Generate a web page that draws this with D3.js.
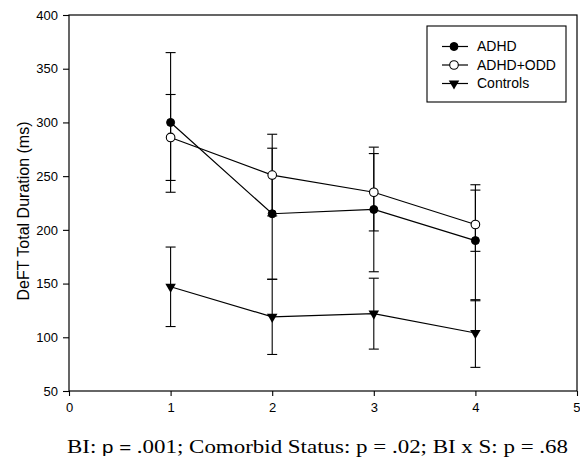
<!DOCTYPE html>
<html>
<head>
<meta charset="utf-8">
<script src="https://cdn.jsdelivr.net/npm/d3@7"></script>
<style>
  body { margin: 0; background: #fff; }
  svg { display: block; }
</style>
</head>
<body>
<svg id="chart"></svg>
<script>
// session on x, duration (ms) on y
const sessions = [1, 2, 3, 4];
const seriesNames = ['ADHD', 'ADHD+ODD', 'Controls'];

const adhd = [300, 215, 219, 190];
const adhdHi = [365, 276, 277, 237];
const adhdLo = [235, 154, 161, 134];

const adhdOdd = [286, 251, 235, 205];
const adhdOddHi = [326, 289, 271, 242];
const adhdOddLo = [246, 213, 199, 180];

const controls = [147, 119, 122, 104];
const controlsHi = [184, 154, 155, 135];
const controlsLo = [110, 84, 89, 72];

const yTicks = [50, 100, 150, 200, 250, 300, 350, 400];
const xTicks = [0, 1, 2, 3, 4, 5];

const width = 580;
const height = 463;
const margin = { top: 15, right: 3, bottom: 72, left: 69 };

const svg = d3.select('#chart')
  .attr('width', width)
  .attr('height', height)
  .style('font-family', 'Liberation Sans, Arial, sans-serif');

const x = d3.scaleLinear().domain([0, 5]).range([margin.left, width - margin.right]);
const y = d3.scaleLinear().domain([50, 400]).range([height - margin.bottom, margin.top]);

// frame
svg.append('rect')
  .attr('x', x(0))
  .attr('y', y(400))
  .attr('width', x(5) - x(0))
  .attr('height', y(50) - y(400))
  .attr('fill', 'none')
  .attr('stroke', '#000')
  .attr('stroke-width', 1.2);

const yAxis = svg.append('g')
  .attr('transform', `translate(${x(0)},0)`)
  .call(d3.axisLeft(y).tickValues(yTicks).tickSize(6).tickSizeOuter(0).tickPadding(5));

const xAxis = svg.append('g')
  .attr('transform', `translate(0,${y(50)})`)
  .call(d3.axisBottom(x).tickValues(xTicks).tickFormat(d3.format('d'))
    .tickSize(5).tickSizeOuter(0).tickPadding(7));

[yAxis, xAxis].forEach(g => {
  g.select('.domain').remove();
  g.selectAll('.tick line').attr('stroke', '#000').attr('stroke-width', 1.1);
  g.selectAll('.tick text')
    .attr('fill', '#000')
    .style('font-size', '13px')
    .style('font-family', 'Liberation Sans, Arial, sans-serif');
});
// last label sits against the edge, as in the scan
xAxis.selectAll('.tick text').filter(d => d === 5).attr('text-anchor', 'end').attr('x', 3);

// y title
svg.append('text')
  .attr('transform', `translate(23,${(y(50) + y(400)) / 2 + 8}) rotate(-90)`)
  .attr('text-anchor', 'middle')
  .attr('dy', '0.35em')
  .style('font-size', '16px')
  .text('DeFT Total Duration (ms)');

const series = [
  { name: seriesNames[0], values: adhd, hi: adhdHi, lo: adhdLo, marker: 'filled' },
  { name: seriesNames[1], values: adhdOdd, hi: adhdOddHi, lo: adhdOddLo, marker: 'open' },
  { name: seriesNames[2], values: controls, hi: controlsHi, lo: controlsLo, marker: 'tri' }
];

const line = d3.line()
  .x((d, i) => x(sessions[i]))
  .y(d => y(d));

const capW = 5;

// error bars first, then lines and markers on top
series.forEach(s => {
  const g = svg.append('g').attr('stroke', '#000').attr('stroke-width', 1.1);
  sessions.forEach((sx, i) => {
    const cx = x(sx);
    g.append('line')
      .attr('x1', cx).attr('x2', cx)
      .attr('y1', y(s.hi[i])).attr('y2', y(s.lo[i]));
    [s.hi[i], s.lo[i]].forEach(v => {
      g.append('line')
        .attr('x1', cx - capW).attr('x2', cx + capW)
        .attr('y1', y(v)).attr('y2', y(v));
    });
  });
});

const drawMarker = (g, type, cx, cy) => {
  if (type === 'filled') {
    g.append('circle').attr('cx', cx).attr('cy', cy).attr('r', 4)
      .attr('fill', '#000').attr('stroke', '#000');
  } else if (type === 'open') {
    g.append('circle').attr('cx', cx).attr('cy', cy).attr('r', 4.3)
      .attr('fill', '#fff').attr('stroke', '#000').attr('stroke-width', 1.1);
  } else {
    const sym = d3.symbol().type(d3.symbolTriangle).size(48);
    g.append('path')
      .attr('d', sym())
      .attr('transform', `translate(${cx},${cy}) rotate(180)`)
      .attr('fill', '#000');
  }
};

series.forEach(s => {
  svg.append('path')
    .datum(s.values)
    .attr('d', line)
    .attr('fill', 'none')
    .attr('stroke', '#000')
    .attr('stroke-width', 1.2);
  const g = svg.append('g');
  s.values.forEach((v, i) => drawMarker(g, s.marker, x(sessions[i]), y(v)));
});

// legend
const legend = svg.append('g');
legend.append('rect')
  .attr('x', 427).attr('y', 26)
  .attr('width', 139).attr('height', 76)
  .attr('fill', '#fff')
  .attr('stroke', '#000')
  .attr('stroke-width', 1.1);

series.forEach((s, i) => {
  const ly = 46.5 + i * 18.5;
  legend.append('line')
    .attr('x1', 442).attr('x2', 468)
    .attr('y1', ly).attr('y2', ly)
    .attr('stroke', '#000').attr('stroke-width', 1.2);
  drawMarker(legend, s.marker, 454, ly);
  legend.append('text')
    .attr('x', 477).attr('y', ly)
    .attr('dy', '0.35em')
    .style('font-size', '14px')
    .text(s.name);
});

// caption (scan is stretched horizontally)
const cap = svg.append('text')
  .attr('x', 67).attr('y', 453)
  .attr('textLength', 501)
  .attr('lengthAdjust', 'spacingAndGlyphs')
  .style('font-family', 'Liberation Serif, Times New Roman, serif')
  .style('font-size', '19px');
cap.append('tspan').text('BI: ');
cap.append('tspan').style('font-family', 'Liberation Sans, Arial, sans-serif').style('font-size', '17px').text('p = ');
cap.append('tspan').text('.001; Comorbid Status: p = .02; BI x S: p = .68');
</script>
</body>
</html>
